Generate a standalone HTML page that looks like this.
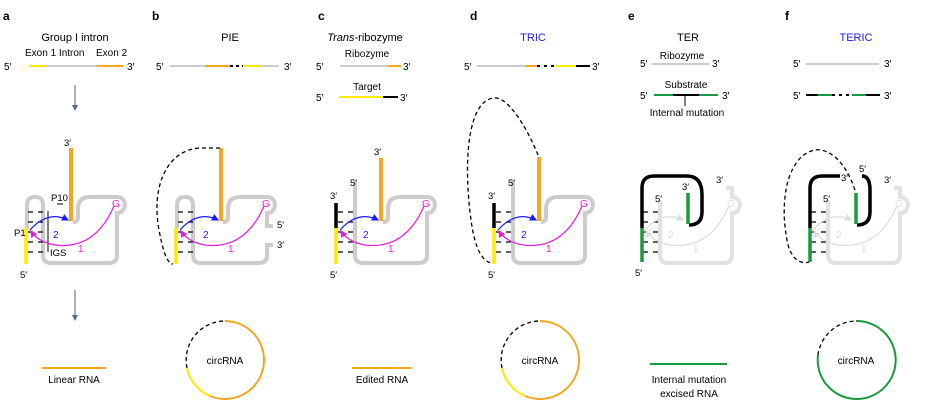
<!DOCTYPE html>
<html><head><meta charset="utf-8"><style>
html,body{margin:0;padding:0;background:#fff;}
svg{display:block;font-family:"Liberation Sans",Arial,sans-serif;}
</style></head><body>
<svg width="925" height="411" viewBox="0 0 925 411" xmlns="http://www.w3.org/2000/svg">
<defs>
<marker id="ab" markerWidth="6" markerHeight="6" refX="5" refY="3" orient="auto"><path d="M0,0 L6,3 L0,6 z" fill="#1a1aff"/></marker>
<marker id="am" markerWidth="6" markerHeight="6" refX="5" refY="3" orient="auto"><path d="M0,0 L6,3 L0,6 z" fill="#e020e0"/></marker>
<marker id="al" markerWidth="6" markerHeight="6" refX="5" refY="3" orient="auto"><path d="M0,0 L6,3 L0,6 z" fill="#ddd"/></marker>
<marker id="ag" markerWidth="6" markerHeight="6" refX="5" refY="3" orient="auto"><path d="M0,0 L6,3 L0,6 z" fill="#5a6a8a"/></marker>
<g id="dash">
<path d="M28 212h5M38 212h5M28 222h5M38 222h5M28 232h5M38 232h5M28 242h5M38 242h5M28 252h5M38 252h5" stroke="#000" stroke-width="1.2"/>
</g>
<g id="arrows">
<path d="M30 230 Q48 210 68 220" fill="none" stroke="#1a1aff" stroke-width="1.2" marker-end="url(#ab)"/>
<path d="M114 206 Q95 250 55 245 Q38 242 31 231" fill="none" stroke="#e020e0" stroke-width="1.2" marker-end="url(#am)"/>
<text x="53" y="238" font-size="10" fill="#1a1aff">2</text>
<text x="78" y="252" font-size="10" fill="#e020e0">1</text>
<text x="112" y="207" font-size="10" fill="#e020e0">G</text>
</g>
<g id="arrowsF">
<path d="M30 230 Q48 210 68 220" fill="none" stroke="#ddd" stroke-width="1.2" marker-end="url(#al)"/>
<path d="M114 206 Q95 250 55 245 Q38 242 31 231" fill="none" stroke="#ddd" stroke-width="1.2" marker-end="url(#al)"/>
<text x="53" y="238" font-size="10" fill="#ddd">2</text>
<text x="78" y="252" font-size="10" fill="#ddd">1</text>
<text x="112" y="207" font-size="10" fill="#ddd">G</text>
</g>
</defs>

<g font-size="12" font-weight="bold">
<text x="3" y="20">a</text><text x="152" y="20">b</text><text x="318" y="20">c</text><text x="470" y="20">d</text><text x="628" y="20">e</text><text x="785" y="20">f</text>
</g>

<!-- Panel a -->
<g font-size="10">
<text x="75" y="41" text-anchor="middle" font-size="11">Group I intron</text>
<text x="25" y="56">Exon 1 Intron</text><text x="96" y="56">Exon 2</text>
<text x="4" y="70">5′</text><text x="127" y="70">3′</text>
</g>
<line x1="29" y1="66" x2="45" y2="66" stroke="#ffeb00" stroke-width="2"/>
<line x1="45" y1="66" x2="97" y2="66" stroke="#ccc" stroke-width="2"/>
<line x1="97" y1="66" x2="123" y2="66" stroke="#f5a623" stroke-width="2"/>
<line x1="75" y1="85" x2="75" y2="110" stroke="#5a6a8a" stroke-width="1" marker-end="url(#ag)"/>
<line x1="75" y1="290" x2="75" y2="320" stroke="#5a6a8a" stroke-width="1" marker-end="url(#ag)"/>
<path d="M27 228 L27 205 Q27 197 35 197 Q43 197 43 205 L43 255 Q43 263 51 263 L109 263 Q117 263 117 255 L117 213 C127 213 128 197 117 197 L90 197 Q78 197 78 209 L78 217 Q78 222 73 222" fill="none" stroke="#ccc" stroke-width="4"/>
<use href="#dash"/>
<line x1="48" y1="211" x2="48" y2="252" stroke="#000" stroke-width="1"/>
<line x1="57" y1="204" x2="63" y2="204" stroke="#000" stroke-width="1"/>
<line x1="26" y1="228" x2="26" y2="264" stroke="#ffeb00" stroke-width="3.5"/>
<line x1="71" y1="148" x2="71" y2="221" stroke="#f5a623" stroke-width="4"/>
<use href="#arrows"/>
<g font-size="9.5"><text x="64" y="146">3′</text><text x="20" y="278">5′</text><text x="51" y="201">P10</text><text x="14" y="236">P1</text><text x="50" y="256">IGS</text></g>
<line x1="42" y1="368" x2="106" y2="368" stroke="#f5a623" stroke-width="2"/>
<text x="74" y="383" font-size="10" text-anchor="middle">Linear RNA</text>

<!-- Panel b -->
<text x="230" y="41" text-anchor="middle" font-size="11">PIE</text>
<text x="156" y="70" font-size="10">5′</text><text x="284" y="70" font-size="10">3′</text>
<line x1="170" y1="66" x2="205" y2="66" stroke="#ccc" stroke-width="2"/>
<line x1="205" y1="66" x2="230" y2="66" stroke="#f5a623" stroke-width="2"/>
<line x1="230" y1="66" x2="243" y2="66" stroke="#000" stroke-width="2" stroke-dasharray="3,3"/>
<line x1="243" y1="66" x2="262" y2="66" stroke="#ffeb00" stroke-width="2"/>
<line x1="262" y1="66" x2="279" y2="66" stroke="#ccc" stroke-width="2"/>
<g transform="translate(150,0)">
<path d="M27 228 L27 205 Q27 197 35 197 Q43 197 43 205 L43 255 Q43 263 51 263 L109 263 Q117 263 117 255 L117 245 L123 245 M123 226 L117 226 L117 213 C127 213 128 197 117 197 L90 197 Q78 197 78 209 L78 217 Q78 222 73 222" fill="none" stroke="#ccc" stroke-width="4"/>
<use href="#dash"/>
<line x1="26" y1="228" x2="26" y2="264" stroke="#ffeb00" stroke-width="3.5"/>
<line x1="71" y1="148" x2="71" y2="221" stroke="#f5a623" stroke-width="4"/>
<path d="M70 148 L50 148 C15 150 0 190 10 235 C14 255 18 264 23 264" fill="none" stroke="#000" stroke-width="1.3" stroke-dasharray="4,3"/>
<use href="#arrows"/>
<g font-size="9.5"><text x="127" y="228">5′</text><text x="127" y="248">3′</text></g>
</g>
<path d="M187 368 A39 39 0 0 1 225 321" fill="none" stroke="#000" stroke-width="1.3" stroke-dasharray="4,3"/>
<path d="M225 321 A39 39 0 1 1 210 396" fill="none" stroke="#f5a623" stroke-width="2"/>
<path d="M210 396 A39 39 0 0 1 187 368" fill="none" stroke="#ffeb00" stroke-width="2"/>
<text x="225" y="364" font-size="10" text-anchor="middle">circRNA</text>

<!-- Panel c -->
<text x="365" y="41" text-anchor="middle" font-size="11"><tspan font-style="italic">Trans</tspan>-ribozyme</text>
<text x="367" y="57" font-size="10" text-anchor="middle">Ribozyme</text>
<text x="316" y="70" font-size="10">5′</text><text x="403" y="70" font-size="10">3′</text>
<line x1="340" y1="66" x2="388" y2="66" stroke="#ccc" stroke-width="2"/>
<line x1="388" y1="66" x2="401" y2="66" stroke="#f5a623" stroke-width="2"/>
<text x="367" y="90" font-size="10" text-anchor="middle">Target</text>
<text x="316" y="101" font-size="10">5′</text><text x="400" y="101" font-size="10">3′</text>
<line x1="339" y1="97" x2="383" y2="97" stroke="#ffeb00" stroke-width="2"/>
<line x1="383" y1="97" x2="398" y2="97" stroke="#000" stroke-width="2"/>
<g transform="translate(310,0)">
<path d="M45 180 L45 255 Q45 263 53 263 L109 263 Q117 263 117 255 L117 213 C127 213 128 197 117 197 L90 197 Q78 197 78 209 L78 217 Q78 222 73 222" fill="none" stroke="#ccc" stroke-width="4"/>
<use href="#dash"/>
<line x1="26" y1="203" x2="26" y2="228" stroke="#000" stroke-width="3.5"/>
<line x1="26" y1="228" x2="26" y2="264" stroke="#ffeb00" stroke-width="3.5"/>
<line x1="71" y1="158" x2="71" y2="221" stroke="#f5a623" stroke-width="4"/>
<use href="#arrows"/>
<g font-size="9.5"><text x="64" y="155">3′</text><text x="20" y="199">3′</text><text x="40" y="186">5′</text><text x="20" y="278">5′</text></g>
</g>
<line x1="352" y1="368" x2="412" y2="368" stroke="#f5a623" stroke-width="2"/>
<text x="382" y="383" font-size="10" text-anchor="middle">Edited RNA</text>

<!-- Panel d -->
<text x="533" y="41" text-anchor="middle" font-size="11" fill="#1a1aff">TRIC</text>
<text x="464" y="70" font-size="10">5′</text><text x="592" y="70" font-size="10">3′</text>
<line x1="477" y1="66" x2="526" y2="66" stroke="#ccc" stroke-width="2"/>
<line x1="526" y1="66" x2="537" y2="66" stroke="#f5a623" stroke-width="2"/>
<line x1="537" y1="66" x2="556" y2="66" stroke="#000" stroke-width="2" stroke-dasharray="3,4"/>
<line x1="556" y1="66" x2="576" y2="66" stroke="#ffeb00" stroke-width="2"/>
<line x1="576" y1="66" x2="590" y2="66" stroke="#000" stroke-width="2"/>
<g transform="translate(468,0)">
<path d="M45 180 L45 255 Q45 263 53 263 L109 263 Q117 263 117 255 L117 213 C127 213 128 197 117 197 L90 197 Q78 197 78 209 L78 217 Q78 222 73 222" fill="none" stroke="#ccc" stroke-width="4"/>
<use href="#dash"/>
<line x1="26" y1="203" x2="26" y2="228" stroke="#000" stroke-width="3.5"/>
<line x1="26" y1="228" x2="26" y2="264" stroke="#ffeb00" stroke-width="3.5"/>
<line x1="71" y1="157" x2="71" y2="221" stroke="#f5a623" stroke-width="4"/>
<path d="M70 155 C60 130 40 95 25 98 C0 102 -5 160 3 220 C7 250 15 263 25 263" fill="none" stroke="#000" stroke-width="1.3" stroke-dasharray="4,3"/>
<use href="#arrows"/>
<g font-size="9.5"><text x="20" y="199">3′</text><text x="40" y="186">5′</text><text x="20" y="278">5′</text></g>
</g>
<path d="M502 368 A39 39 0 0 1 540 321" fill="none" stroke="#000" stroke-width="1.3" stroke-dasharray="4,3"/>
<path d="M540 321 A39 39 0 1 1 525 396" fill="none" stroke="#f5a623" stroke-width="2"/>
<path d="M525 396 A39 39 0 0 1 502 368" fill="none" stroke="#ffeb00" stroke-width="2"/>
<text x="540" y="364" font-size="10" text-anchor="middle">circRNA</text>

<!-- Panel e -->
<text x="688" y="41" text-anchor="middle" font-size="11">TER</text>
<text x="682" y="59" font-size="10" text-anchor="middle">Ribozyme</text>
<text x="640" y="67" font-size="10">5′</text><text x="712" y="67" font-size="10">3′</text>
<line x1="652" y1="64" x2="709" y2="64" stroke="#ccc" stroke-width="2"/>
<text x="686" y="88" font-size="10" text-anchor="middle">Substrate</text>
<text x="640" y="99" font-size="10">5′</text><text x="722" y="99" font-size="10">3′</text>
<line x1="654" y1="95" x2="673" y2="95" stroke="#1a9a40" stroke-width="2"/>
<line x1="673" y1="95" x2="699" y2="95" stroke="#000" stroke-width="2"/>
<line x1="699" y1="95" x2="718" y2="95" stroke="#1a9a40" stroke-width="2"/>
<line x1="685" y1="96" x2="685" y2="106" stroke="#000" stroke-width="1"/>
<text x="687" y="116" font-size="10" text-anchor="middle">Internal mutation</text>
<g transform="translate(615,0)">
<path d="M45 200 L45 255 Q45 263 53 263 L109 263 Q117 263 117 255 L117 213 C127 213 128 197 117 197 L117 188 L111 188" fill="none" stroke="#e2e2e2" stroke-width="4"/>
<use href="#dash"/>
<path d="M27 228 L27 188 Q27 176 39 176 L72 176 Q87 176 87 195 L87 212 Q87 225 74 225" fill="none" stroke="#000" stroke-width="3.5"/>
<line x1="27" y1="228" x2="27" y2="262" stroke="#1a9a40" stroke-width="3.5"/>
<line x1="73" y1="193" x2="73" y2="224" stroke="#1a9a40" stroke-width="3.5"/>
<use href="#arrowsF"/>
<g font-size="9.5"><text x="67" y="190">3′</text><text x="40" y="202">5′</text><text x="20" y="276">5′</text><text x="101" y="183">3′</text></g>
</g>
<line x1="650" y1="364" x2="727" y2="364" stroke="#1a9a40" stroke-width="2"/>
<text x="689" y="383" font-size="10" text-anchor="middle">Internal mutation</text>
<text x="689" y="397" font-size="10" text-anchor="middle">excised RNA</text>

<!-- Panel f -->
<text x="856" y="41" text-anchor="middle" font-size="11" fill="#1a1aff">TERIC</text>
<text x="793" y="67" font-size="10">5′</text><text x="884" y="67" font-size="10">3′</text>
<line x1="806" y1="64" x2="879" y2="64" stroke="#ccc" stroke-width="2"/>
<text x="793" y="99" font-size="10">5′</text><text x="884" y="99" font-size="10">3′</text>
<line x1="806" y1="95" x2="818" y2="95" stroke="#000" stroke-width="2"/>
<line x1="818" y1="95" x2="832" y2="95" stroke="#1a9a40" stroke-width="2"/>
<line x1="832" y1="95" x2="851" y2="95" stroke="#000" stroke-width="2" stroke-dasharray="3,4"/>
<line x1="852" y1="95" x2="866" y2="95" stroke="#1a9a40" stroke-width="2"/>
<line x1="866" y1="95" x2="880" y2="95" stroke="#000" stroke-width="2"/>
<g transform="translate(783,0)">
<path d="M45 200 L45 255 Q45 263 53 263 L109 263 Q117 263 117 255 L117 213 C127 213 128 197 117 197 L117 188 L111 188" fill="none" stroke="#e2e2e2" stroke-width="4"/>
<use href="#dash"/>
<path d="M27 228 L27 188 Q27 176 39 176 L57 176 M79 176 Q87 176 87 190 L87 212 Q87 225 74 225" fill="none" stroke="#000" stroke-width="3.5"/>
<line x1="27" y1="228" x2="27" y2="262" stroke="#1a9a40" stroke-width="3.5"/>
<line x1="73" y1="193" x2="73" y2="224" stroke="#1a9a40" stroke-width="3.5"/>
<path d="M72 190 C62 160 45 148 32 150 C5 155 -5 200 5 245 C10 262 20 264 26 262" fill="none" stroke="#000" stroke-width="1.3" stroke-dasharray="4,3"/>
<use href="#arrowsF"/>
<g font-size="9.5"><text x="58" y="181">3′</text><text x="76" y="172">5′</text><text x="40" y="202">5′</text><text x="101" y="183">3′</text></g>
</g>
<path d="M818 355 A39 39 0 0 1 856 321" fill="none" stroke="#000" stroke-width="1.3" stroke-dasharray="4,3"/>
<path d="M856 321 A39 39 0 1 1 818 355" fill="none" stroke="#1a9a40" stroke-width="2"/>
<text x="856" y="364" font-size="10" text-anchor="middle">circRNA</text>
</svg>
</body></html>
